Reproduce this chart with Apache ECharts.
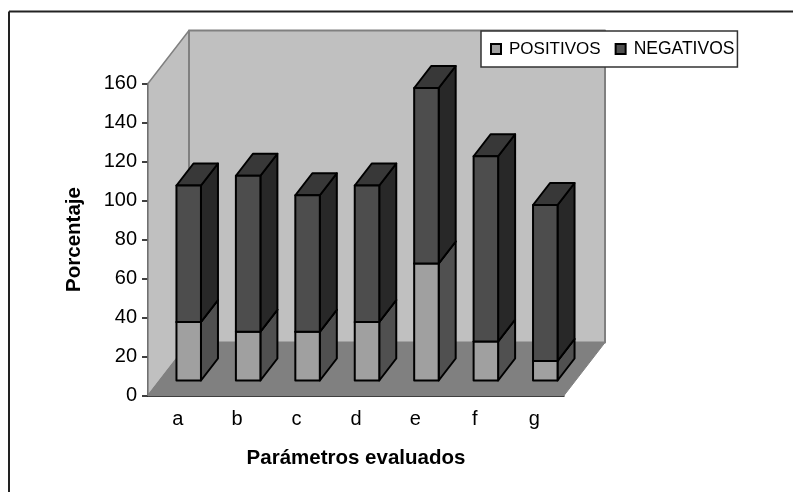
<!DOCTYPE html>
<html><head><meta charset="utf-8">
<style>html,body{margin:0;padding:0;background:#fff}#c{width:793px;height:492px}</style>
<script src="https://cdn.jsdelivr.net/npm/echarts@6/dist/echarts.min.js"></script>
</head><body><div id="c"></div>
<script>
const categories = ['a','b','c','d','e','f','g'];
const positivos = [30,25,25,30,60,20,10];
const negativos = [70,80,70,70,90,95,80];
const yTicks = {min:0,max:160,interval:20};
const FONT = '"Liberation Sans",Arial,sans-serif';
const DX = 41, DY = -53;            // full floor depth
const BX = 10.5, BY = -15;          // bar front offset from axis plane
const SX = 17, SY = -22;            // bar depth
const BAR = 24.5;

function poly(points, fill, stroke, lw){
  return {type:'polygon',shape:{points},style:{fill,stroke,lineWidth:lw,lineJoin:'round'}};
}
function wallsItem(params, api){
  const o = api.coord([0,0]); const cs = params.coordSys;
  const x0=cs.x, x1=cs.x+cs.width, y0=o[1], yt=cs.y;
  const wall='#C0C0C0', edge='#808080';
  return {type:'group',silent:true,children:[
    poly([[x0,y0],[x0+DX,y0+DY],[x0+DX,yt+DY],[x0,yt]],wall,edge,1.5),
    poly([[x0+DX,y0+DY],[x1+DX,y0+DY],[x1+DX,yt+DY],[x0+DX,yt+DY]],wall,edge,2),
    poly([[x0,y0],[x1,y0],[x1+DX,y0+DY],[x0+DX,y0+DY]],edge,edge,1)
  ]};
}
function boxItem(cols, base){
  return function(params, api){
    const i = api.value(0), v = api.value(1);
    const b = base[i];
    const p0 = api.coord([i,b]), p1 = api.coord([i,b+v]);
    const xl = p0[0]+BX-BAR/2+0.5, xr = xl+BAR, yb=p0[1]+BY, yt=p1[1]+BY;
    const k='#000', w=2;
    return {type:'group',children:[
      poly([[xr,yb],[xr+SX,yb+SY],[xr+SX,yt+SY],[xr,yt]],cols[1],k,w),
      poly([[xl,yt],[xr,yt],[xr+SX,yt+SY],[xl+SX,yt+SY]],cols[2],k,w),
      poly([[xl,yb],[xr,yb],[xr,yt],[xl,yt]],cols[0],k,w)
    ]};
  };
}
const base2 = positivos;
const base1 = categories.map(()=>0);
const chart = echarts.init(document.getElementById('c'),null,{renderer:'canvas'});
chart.setOption({
  animation:false,
  backgroundColor:'#fff',
  grid:{left:148,right:229,top:83.5,height:312,containLabel:false},
  legend:{
    left:481,top:31,padding:[9,3,9,9],
    data:[{name:'POSITIVOS'},{name:'NEGATIVOS',textStyle:{fontSize:17.5}}],icon:'rect',
    backgroundColor:'#fff',borderColor:'#333',borderWidth:1.5,
    itemWidth:10,itemHeight:10,itemGap:14,
    textStyle:{fontFamily:FONT,fontSize:17,color:'#000',padding:[0,0,0,3]}
  },
  graphic:[
    {type:'line',silent:true,shape:{x1:9,y1:11.5,x2:793,y2:11.5},style:{stroke:'#222',lineWidth:2}},
    {type:'line',silent:true,shape:{x1:9,y1:11.5,x2:9,y2:492},style:{stroke:'#222',lineWidth:2}}
  ],
  xAxis:{type:'category',data:categories,boundaryGap:true,
    name:'Parámetros evaluados',nameLocation:'middle',nameGap:52,
    nameTextStyle:{fontFamily:FONT,fontSize:20.5,fontWeight:'bold',color:'#000'},
    axisLine:{lineStyle:{color:'#000',width:1.5}},
    axisTick:{alignWithLabel:false,length:6,lineStyle:{color:'#000',width:1.5}},
    axisLabel:{fontFamily:FONT,fontSize:20,color:'#000',margin:14}},
  yAxis:{type:'value',min:yTicks.min,max:yTicks.max,interval:yTicks.interval,
    name:'Porcentaje',nameLocation:'middle',nameGap:63,
    nameTextStyle:{fontFamily:FONT,fontSize:20.5,fontWeight:'bold',color:'#000'},
    axisLine:{show:true,onZero:false,lineStyle:{color:'#000',width:1.5}},
    axisTick:{show:true,length:6,lineStyle:{color:'#000',width:1.5}},
    splitLine:{show:false},
    axisLabel:{fontFamily:FONT,fontSize:20,color:'#000',margin:11,padding:[2,0,0,0]}},
  series:[
    {type:'custom',name:'walls',silent:true,z:1,clip:false,renderItem:wallsItem,data:[[0,0]],encode:{x:0,y:1}},
    {type:'custom',name:'POSITIVOS',z:2,clip:false,itemStyle:{color:'#A0A0A0',borderColor:'#000',borderWidth:1.5},
      renderItem:boxItem(['#A0A0A0','#505050','#404040'],base1),encode:{x:0,y:1},
      data:positivos.map((v,i)=>[i,v])},
    {type:'custom',name:'NEGATIVOS',z:3,clip:false,itemStyle:{color:'#505050',borderColor:'#000',borderWidth:1.5},
      renderItem:boxItem(['#4D4D4D','#282828','#383838'],base2),encode:{x:0,y:1},
      data:negativos.map((v,i)=>[i,v])}
  ]
});
</script></body></html>
